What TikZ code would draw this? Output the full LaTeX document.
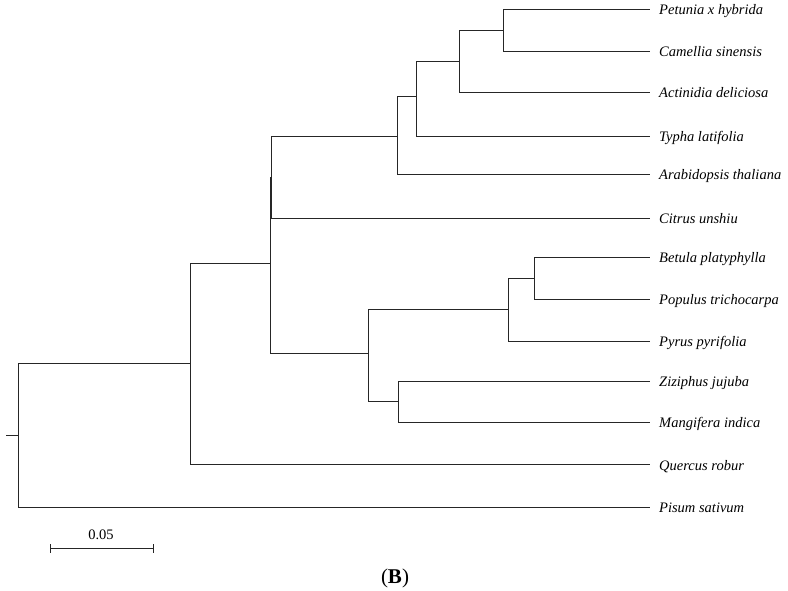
\documentclass[tikz,border=0pt]{standalone}
\usepackage{fontspec}
\setmainfont{Liberation Serif}
\begin{document}
\begin{tikzpicture}[x=1pt,y=-1pt,
  branch/.style={draw=black!85,line width=0.9pt},
  leaflabel/.style={anchor=base west,inner sep=0pt,yshift=-5.5pt,font=\fontsize{14.5}{16}\selectfont\itshape},
  scalelabel/.style={inner sep=0pt,font=\fontsize{14.5}{16}\selectfont},
  panellabel/.style={inner sep=0pt,font=\fontsize{21}{24}\selectfont}]
\useasboundingbox (0,0) rectangle (788,591);
% leaf ends
\foreach \n/\y in {pet/9,cam/51.5,act/92,typ/136,ara/174.5,cit/218,bet/257,pop/299,pyr/341,ziz/381,man/422,que/464.5,pis/507}
  \coordinate (e\n) at (650,\y);
% labels
\node[leaflabel] (lpet) at (659,9) {Petunia x hybrida};
\node[leaflabel] (lcam) at (659,51.5) {Camellia sinensis};
\node[leaflabel] (lact) at (659,92) {Actinidia deliciosa};
\node[leaflabel] (ltyp) at (659,136) {Typha latifolia};
\node[leaflabel] (lara) at (659,174.5) {Arabidopsis thaliana};
\node[leaflabel] (lcit) at (659,218) {Citrus unshiu};
\node[leaflabel] (lbet) at (659,257) {Betula platyphylla};
\node[leaflabel] (lpop) at (659,299) {Populus trichocarpa};
\node[leaflabel] (lpyr) at (659,341) {Pyrus pyrifolia};
\node[leaflabel] (lziz) at (659,381) {Ziziphus jujuba};
\node[leaflabel] (lman) at (659,422) {Mangifera indica};
\node[leaflabel] (lque) at (659,464.5) {Quercus robur};
\node[leaflabel] (lpis) at (659,507) {Pisum sativum};
% internal nodes
\coordinate (n1) at (503,30.25);
\coordinate (n2) at (459,61);
\coordinate (n3) at (416,96);
\coordinate (n4) at (397,136);
\coordinate (n5) at (271.5,177);
\coordinate (n6) at (534,278);
\coordinate (n7) at (508,309.5);
\coordinate (n8) at (398,401.5);
\coordinate (n9) at (368,353.5);
\coordinate (n10) at (270.5,263);
\coordinate (n11) at (190,363.7);
\coordinate (root) at (18.3,435);
\coordinate (stub) at (6,435);
% branches
\draw[branch] (n1) |- (epet) (n1) |- (ecam);
\draw[branch] (n2) |- (n1) (n2) |- (eact);
\draw[branch] (n3) |- (n2) (n3) |- (etyp);
\draw[branch] (n4) |- (n3) (n4) |- (eara);
\draw[branch] (n5) |- (n4) (n5) |- (ecit);
\draw[branch] (n6) |- (ebet) (n6) |- (epop);
\draw[branch] (n7) |- (n6) (n7) |- (epyr);
\draw[branch] (n8) |- (eziz) (n8) |- (eman);
\draw[branch] (n9) |- (n7) (n9) |- (n8);
\draw[branch] (n10) |- (n5) (n10) |- (n9);
\draw[branch] (n11) |- (n10) (n11) |- (eque);
\draw[branch] (root) |- (n11) (root) |- (epis);
\draw[branch] (stub) -- (root);
% scale bar
\coordinate (sbl) at (50,548);
\coordinate (sbr) at (153,548);
\draw[branch] (sbl) -- (sbr);
\draw[branch] ([yshift=-4.5pt]sbl) -- ([yshift=4.5pt]sbl);
\draw[branch] ([yshift=-4.5pt]sbr) -- ([yshift=4.5pt]sbr);
\node[scalelabel] (sblab) at (101,535) {0.05};
\node[panellabel] (panel) at (395,578) {(\textbf{B})};
\end{tikzpicture}
\end{document}
